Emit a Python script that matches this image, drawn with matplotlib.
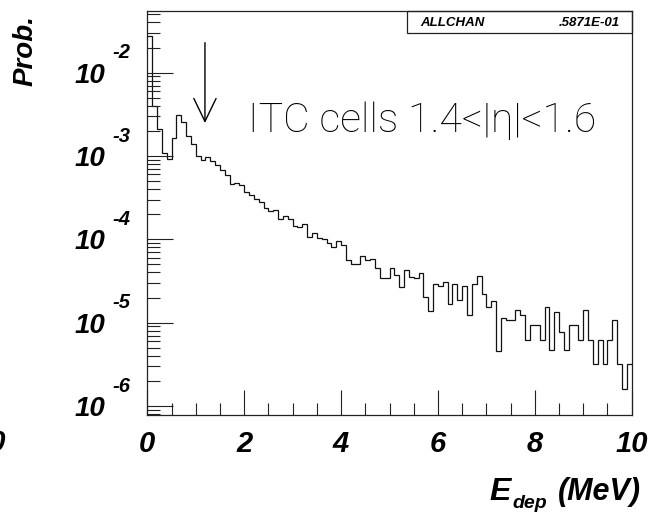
import numpy as np
import matplotlib
matplotlib.use("Agg")
import matplotlib.pyplot as plt
from matplotlib.patches import Rectangle
from matplotlib.ticker import FixedLocator, NullFormatter

# Energy deposit spectrum, 100 bins of 0.1 MeV from 0 to 10 MeV
bin_edges_mev = np.linspace(0.0, 10.0, 101)
prob = [
    2.75e-2, 3.98e-3, 2.09e-3, 1.10e-3, 9.3e-4, 1.66e-3, 3.10e-3, 2.57e-3, 1.74e-3, 1.38e-3,
    1.00e-3, 8.95e-4, 9.64e-4, 8.79e-4, 7.80e-4, 6.79e-4, 5.92e-4, 4.61e-4, 4.70e-4, 4.47e-4,
    3.70e-4, 3.37e-4, 3.05e-4, 2.83e-4, 2.36e-4, 2.19e-4, 2.25e-4, 1.77e-4, 1.92e-4, 1.77e-4,
    1.45e-4, 1.39e-4, 1.53e-4, 1.08e-4, 1.20e-4, 1.05e-4, 1.00e-4, 9.0e-5, 8.0e-5, 9.55e-5,
    8.47e-5, 5.65e-5, 5.06e-5, 5.06e-5, 6.37e-5, 5.65e-5, 5.75e-5, 4.53e-5, 3.40e-5, 3.40e-5,
    4.53e-5, 3.73e-5, 2.70e-5, 4.29e-5, 3.56e-5, 3.40e-5, 3.91e-5, 2.01e-5, 1.39e-5, 2.95e-5,
    2.78e-5, 3.10e-5, 1.67e-5, 2.91e-5, 1.87e-5, 2.75e-5, 1.24e-5, 2.91e-5, 3.63e-5, 2.21e-5,
    1.56e-5, 1.84e-5, 4.61e-6, 1.15e-5, 1.08e-5, 1.08e-5, 1.41e-5, 1.24e-5, 6.19e-6, 9.33e-6,
    9.33e-6, 6.19e-6, 1.56e-5, 4.68e-6, 1.35e-5, 7.80e-6, 4.68e-6, 9.33e-6, 9.33e-6, 6.19e-6,
    1.42e-5, 6.19e-6, 3.16e-6, 6.19e-6, 3.16e-6, 6.19e-6, 1.08e-5, 3.16e-6, 1.58e-6, 3.16e-6,
]
x_major = [0, 2, 4, 6, 8, 10]
x_labels = ["0", "2", "4", "6", "8", "10"]
y_decades = [-2, -3, -4, -5, -6]
stat_name = "ALLCHAN"
stat_value = ".5871E-01"
arrow_x = 1.19
arrow_from, arrow_to = 10 ** -1.64, 10 ** -2.604

W, H, DPI = 665, 514, 100
fig = plt.figure(figsize=(W / DPI, H / DPI), dpi=DPI)
fig.patch.set_facecolor("white")

L, R, T, B = 147.3, 631.7, 11.0, 415.0
ax = fig.add_axes([L / W, 1 - B / H, (R - L) / W, (B - T) / H])
ax.set_yscale("log")
ax.set_xlim(0, 10)
ax.set_ylim(10 ** -6.108, 10 ** -1.26)

fam = ["Liberation Sans", "DejaVu Sans"]
bi = dict(family=fam, weight="bold", style="italic", color="black")

ax.stairs(prob, bin_edges_mev, baseline=None, color="#111111", lw=0.9)

for s in ax.spines.values():
    s.set_linewidth(0.9)
    s.set_color("#222222")

# y axis: inward decade and sub-decade ticks on the left only
dec = [10.0 ** d for d in range(-7, 0)]
minors = [m * d for d in dec for m in range(2, 10)]
ax.yaxis.set_major_locator(FixedLocator([10.0 ** d for d in y_decades]))
ax.yaxis.set_minor_locator(FixedLocator(minors))
ax.yaxis.set_major_formatter(NullFormatter())
ax.yaxis.set_minor_formatter(NullFormatter())
ax.tick_params(axis="y", which="major", direction="in", length=18.5, width=0.8,
               color="#222222", left=True, right=False)
ax.tick_params(axis="y", which="minor", direction="in", length=9.3, width=0.8,
               color="#222222", left=True, right=False)

# x axis: inward ticks every 0.5 MeV, long every 2 MeV
ax.set_xticks(x_major)
ax.set_xticks(np.arange(0, 10.01, 0.5), minor=True)
ax.set_xticklabels(x_labels, fontsize=21, **bi)
ax.tick_params(axis="x", which="major", direction="in", length=18, width=0.8,
               color="#222222", pad=11, top=False)
ax.tick_params(axis="x", which="minor", direction="in", length=8.6, width=0.8,
               color="#222222", top=False)

# y tick labels as 10 with raised exponent
for d in y_decades:
    ax.annotate("10", xy=(0, 10.0 ** d), xycoords=("axes fraction", "data"),
                xytext=(-42, -3), textcoords="offset pixels",
                ha="right", va="center", fontsize=20, **bi)
    ax.annotate(str(d), xy=(0, 10.0 ** d), xycoords=("axes fraction", "data"),
                xytext=(-35, 20), textcoords="offset pixels",
                ha="left", va="center", fontsize=14.5, **bi)

# axis titles
fig.text(26 / W, 1 - 50 / H, "Prob.", rotation=90, ha="center", va="center",
         fontsize=20, **bi)
fig.text(511 / W, 1 - 500 / H, "E", ha="right", va="baseline", fontsize=23, **bi)
fig.text(512 / W, 1 - 508 / H, "dep", ha="left", va="baseline", fontsize=14, **bi)
fig.text(641 / W, 1 - 500 / H, "(MeV)", ha="right", va="baseline", fontsize=22, **bi)
fig.text(6 / W, 1 - 443 / H, "10", ha="right", va="center", fontsize=21, **bi)

# statistics box in the top-right corner
bx0 = (407 - L) / (R - L)
by0 = (B - 33) / (B - T)
ax.add_patch(Rectangle((bx0, by0), 1 - bx0, 1 - by0, transform=ax.transAxes,
                       fill=False, lw=0.9, edgecolor="#222222", clip_on=False))
ax.text((420 - L) / (R - L), (B - 23) / (B - T), stat_name, transform=ax.transAxes,
        ha="left", va="center", fontsize=9.5, **bi)
ax.text((620 - L) / (R - L), (B - 23) / (B - T), stat_value, transform=ax.transAxes,
        ha="right", va="center", fontsize=9.5, **bi)

# arrow marking the peak region
ax.annotate("", xy=(arrow_x, arrow_to), xytext=(arrow_x, arrow_from),
            arrowprops=dict(arrowstyle="->, head_length=16.5, head_width=8",
                            mutation_scale=1, lw=1.0, color="black",
                            shrinkA=0, shrinkB=0))

ax.text((248 - L) / (R - L), (B - 132) / (B - T), "ITC cells 1.4<|η|<1.6",
        transform=ax.transAxes, ha="left", va="baseline", fontsize=29.5,
        family=["Roboto", "DejaVu Sans"], weight="light", color="black")

fig.savefig("out.png", dpi=DPI, facecolor="white")
